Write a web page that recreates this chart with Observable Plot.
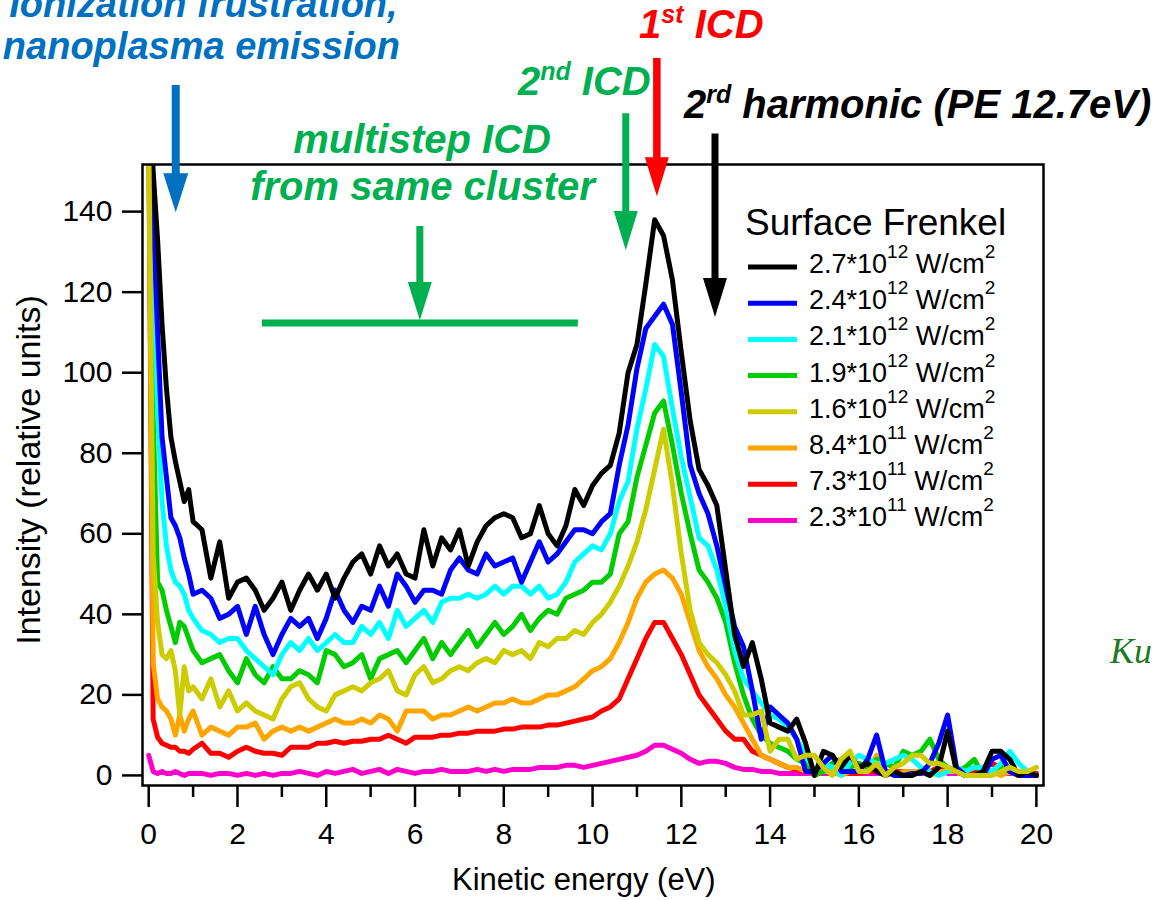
<!DOCTYPE html>
<html>
<head>
<meta charset="utf-8">
<script src="https://cdn.jsdelivr.net/npm/d3@7"></script>
<script src="https://cdn.jsdelivr.net/npm/@observablehq/plot@0.6"></script>
<style>
  html, body { margin: 0; padding: 0; background: #fff; }
  #chart svg { display: block; }
</style>
</head>
<body>
<div id="chart"></div>
<script>
// Kinetic energy grid (eV)
const energy = [
  0, 0.1, 0.2, 0.3, 0.4, 0.5, 0.6, 0.7, 0.8, 0.9, 1.0,
  1.2, 1.4, 1.6, 1.8, 2.0,
  2.2, 2.4, 2.6, 2.8, 3.0,
  3.2, 3.4, 3.6, 3.8, 4.0,
  4.2, 4.4, 4.6, 4.8, 5.0,
  5.2, 5.4, 5.6, 5.8, 6.0,
  6.2, 6.4, 6.6, 6.8, 7.0,
  7.2, 7.4, 7.6, 7.8, 8.0,
  8.2, 8.4, 8.6, 8.8, 9.0,
  9.2, 9.4, 9.6, 9.8, 10.0,
  10.2, 10.4, 10.6, 10.8, 11.0,
  11.2, 11.4, 11.6, 11.8, 12.0,
  12.2, 12.4, 12.6, 12.8, 13.0,
  13.2, 13.4, 13.6, 13.8, 14.0,
  14.2, 14.4, 14.6, 14.8, 15.0,
  15.2, 15.4, 15.6, 15.8, 16.0,
  16.2, 16.4, 16.6, 16.8, 17.0,
  17.2, 17.4, 17.6, 17.8, 18.0,
  18.2, 18.4, 18.6, 18.8, 19.0,
  19.2, 19.4, 19.6, 19.8, 20.0
];

// Electron intensity (relative units) for each laser intensity
const int27e12 = [
  175, 150, 133, 112, 96, 84, 78, 73, 68, 71, 63,
  61, 49, 58, 44, 48,
  49, 46, 41, 44, 48,
  41, 46, 50, 46, 50,
  44, 49, 53, 55, 50,
  57, 52, 55, 50, 49,
  61, 52, 59, 56, 61,
  52, 58, 62, 64, 65,
  64, 59, 60, 67, 60,
  57, 62, 71, 67, 72,
  75, 77, 85, 100, 107,
  122, 138, 134, 123, 105,
  88, 76, 72, 67, 51,
  35, 27, 33, 24, 13,
  12, 11, 14, 8, 0,
  6, 5, 2, 5, 2,
  3, 1, 0, 1, 0,
  0, 1, 0, 2, 11,
  1, 0, 0, 1, 6,
  6, 4, 0, 1, 0
];
const int24e12 = [
  170, 140, 110, 84, 74, 64, 62, 59, 54, 50, 45,
  46, 44, 39, 40, 42,
  35, 42, 35, 30, 35,
  39, 37, 39, 34, 39,
  46, 41, 38, 42, 41,
  47, 42, 50, 47, 43,
  46, 46, 45, 51, 54,
  51, 50, 55, 52, 53,
  54, 48, 53, 58, 53,
  55, 58, 61, 61, 60,
  63, 65, 77, 87, 101,
  111, 114, 117, 112, 95,
  77, 70, 65, 57, 47,
  37, 32, 21, 9, 17,
  15, 13, 9, 1, 1,
  3, 5, 1, 1, 1,
  4, 10, 1, 0, 0,
  0.5, 0.5, 3, 8, 15,
  2, 0, 0, 0, 4,
  5, 1, 0, 0, 0
];
const int21e12 = [
  170, 130, 90, 68, 57, 51, 48, 47, 45, 41, 39,
  36, 35, 33, 34, 34,
  31, 29, 27, 25, 30,
  33, 31, 34, 31, 33,
  35, 33, 33, 37, 35,
  38, 34, 41, 37, 39,
  41, 38, 43, 44, 44,
  45, 44, 45, 47, 45,
  47, 47, 45, 47, 44,
  45, 48, 53, 55, 57,
  56, 60, 68, 73, 86,
  96, 107, 104, 91, 79,
  69, 59, 57, 51, 42,
  31, 24, 21, 18, 15,
  14, 12, 9, 5, 1,
  3, 2, 0, 3, 5,
  4, 3, 3, 4, 5,
  4, 2, 1, 0, 1,
  2, 1, 2, 2, 1,
  3, 6, 3, 1, 0
];
const int19e12 = [
  165, 90, 48, 46, 41, 37, 33, 38, 37, 34, 31,
  28, 29, 30, 26, 23,
  29, 25, 23, 27, 24,
  24, 26, 25, 23, 31,
  30, 27, 28, 30, 24,
  29, 30, 31, 28, 31,
  34, 29, 33, 30, 33,
  36, 32, 35, 38, 35,
  37, 40, 36, 39, 41,
  40, 44, 45, 46, 48,
  48, 50, 60, 63, 74,
  82, 90, 93, 82, 70,
  60, 51, 48, 44, 38,
  28, 20, 14, 10, 8,
  7, 6, 4, 3, 0,
  1, 3, 4, 2, 3,
  2, 4, 3, 2, 6,
  5, 6, 9, 4, 2,
  1, 2, 4, 0, 1,
  2, 1, 0, 0, 0
];
const int16e12 = [
  160, 55, 38, 30, 29, 31, 26, 15, 27, 21, 22,
  19, 24, 17, 21, 16,
  18, 16, 15, 14, 19,
  22, 23, 19, 17, 16,
  20, 21, 22, 21, 23,
  24, 26, 21, 20, 25,
  27, 23, 24, 26, 27,
  26, 28, 29, 28, 31,
  30, 31, 29, 33, 32,
  34, 34, 36, 35, 38,
  40, 43, 47, 52, 58,
  66, 76, 86, 72, 55,
  41, 33, 30, 28, 25,
  21, 15, 15, 16, 6,
  9, 9, 4, 5, 5,
  2, 0, 4, 6, 1,
  1, 3, 0, 2, 3,
  5, 5, 3, 3, 2,
  1, 0, 0, 0, 0,
  1, 2, 1, 1, 2
];
const int84e11 = [
  160, 28, 19, 17, 16, 14, 10, 15, 11, 14, 16,
  10, 12, 11, 10, 12,
  12, 13, 9, 11, 12,
  11, 12, 11, 12, 13,
  14, 13, 13, 14, 13,
  15, 14, 11, 16, 16,
  16, 14, 15, 15, 16,
  17, 16, 17, 18, 18,
  19, 18, 18, 19, 20,
  20, 21, 22, 24, 26,
  27, 29, 33, 38, 44,
  48, 50, 51, 49, 45,
  38, 31, 27, 24, 20,
  17, 13, 9, 5, 4,
  3, 2, 2, 1, 1,
  1, 1, 0, 1, 1,
  1, 5, 1, 0, 1,
  1, 1, 0, 1, 1,
  1, 0, 0, 1, 1,
  0, 1, 0, 1, 0
];
const int73e11 = [
  160, 14, 9.5, 8, 7.5, 7, 7, 6, 6, 5.5, 6.5,
  8, 5.5, 5.5, 4.5, 6,
  7, 6, 5.5, 5.5, 5,
  7, 7, 7, 8, 8,
  8.5, 8, 8.5, 8.5, 9,
  9, 10, 9, 8, 9.5,
  9.5, 9.5, 10, 10, 10.5,
  10.5, 11, 11, 11, 11.5,
  11.5, 12, 12, 12, 12.5,
  12.5, 13, 13.5, 14, 14.5,
  16, 17, 19, 24, 29,
  34, 38, 38, 34, 30,
  25, 20, 17, 14, 11,
  9, 9, 6, 5, 4,
  3, 2, 1.5, 1, 1,
  1, 1, 1, 0.5, 0.5,
  1, 1, 1, 1, 1,
  1, 1, 1, 2, 1,
  1, 1, 1, 2, 3,
  2, 1, 1, 0.5, 0.5
];
const int23e11 = [
  5, 1, 0.5, 1, 0.5, 0.5, 1, 0.5, 0, 0.5, 0.5,
  0.5, 0, 0.5, 0.5, 0,
  0.5, 0, 0.5, 0, 0.5,
  0.5, 1, 0.5, 0, 1,
  0.5, 1, 1.5, 0.5, 1,
  1.5, 0.5, 1.5, 1, 0.5,
  1, 1, 1.5, 1, 1,
  1, 1.5, 1, 1.5, 1,
  1.5, 1.5, 1.5, 2, 2,
  2, 2.5, 2.5, 2, 2.5,
  3, 3.5, 4, 4.5, 5,
  6, 7.5, 7.5, 6.5, 5.5,
  4, 3, 3.5, 3.5, 3,
  2, 1.5, 1.5, 1, 1,
  0.5, 0.5, 0.5, 0.5, 0.5,
  0.5, 0.5, 0.5, 0.5, 0.5,
  0.5, 0.5, 0.5, 0.5, 0.5,
  0.5, 0.5, 1, 1, 0.5,
  0.5, 1, 0.5, 0.5, 0.5,
  0.5, 0.5, 0.5, 1, 0.5
];

// Legend entries (top to bottom): mantissa and power of ten of W/cm^2
const seriesMantissa = ["2.7", "2.4", "2.1", "1.9", "1.6", "8.4", "7.3", "2.3"];
const seriesExponent = ["12", "12", "12", "12", "12", "11", "11", "11"];
const seriesValues = [int27e12, int24e12, int21e12, int19e12, int16e12, int84e11, int73e11, int23e11];
const seriesColors = ["#000000", "#0000ff", "#00ffff", "#00cc00", "#cccc00", "#ffa500", "#ff0000", "#ff00cc"];
// stacking order of the traces (indices into the lists above), bottom first
const drawOrder = [7, 6, 5, 3, 2, 1, 0, 4];

const yTicks = [0, 20, 40, 60, 80, 100, 120, 140];
const xMajor = [0, 2, 4, 6, 8, 10, 12, 14, 16, 18, 20];
const xMinor = [1, 3, 5, 7, 9, 11, 13, 15, 17, 19];

const SANS = "'Liberation Sans', Arial, Helvetica, sans-serif";

const rows = seriesValues.map((vals, s) =>
  energy.map((e, i) => ({energy: e, intensity: vals[i], series: s}))
);

const fig = Plot.plot({
  width: 1157,
  height: 900,
  marginLeft: 142,
  marginRight: 114,
  marginTop: 164,
  marginBottom: 115,
  style: {fontFamily: SANS, fontSize: "30px", background: "#fff", color: "#000"},
  x: {domain: [-0.14, 20.16]},
  y: {domain: [-2.5, 151.7]},
  marks: [
    ...drawOrder.map(s => Plot.line(rows[s], {
      x: "energy", y: "intensity",
      stroke: seriesColors[s], strokeWidth: 5,
      strokeLinejoin: "round", strokeLinecap: "round",
      clip: true
    })),
    Plot.frame({stroke: "#000", strokeWidth: 2.5}),
    Plot.axisY(yTicks, {tickSize: 20, tickPadding: 10, strokeWidth: 2.5, label: null}),
    Plot.axisX(xMajor, {tickSize: 22, tickPadding: 15, strokeWidth: 2.5, label: null}),
    Plot.axisX(xMinor, {tickSize: 12, strokeWidth: 2.5, tickFormat: () => "", label: null})
  ]
});

document.getElementById("chart").appendChild(fig);

// ---- annotations, placed in data coordinates ----
const svg = d3.select(fig);
const sx = fig.scale("x"), sy = fig.scale("y");
const X = v => sx.apply(v), Y = v => sy.apply(v);

const BLUE = "#0070c0", GREEN = "#00b050", RED = "#ff0000";

const arrows = [
  {x: 0.62, top: 171.3, base: 149.4, tip: 139.7, color: BLUE, shaft: 8, head: 25},
  {x: 6.12, top: 136.3, base: 122.4, tip: 112.9, color: GREEN, shaft: 7, head: 24},
  {x: 10.76, top: 164.3, base: 140.0, tip: 130.3, color: GREEN, shaft: 7, head: 24},
  {x: 11.46, top: 178.0, base: 153.4, tip: 143.7, color: RED, shaft: 7.5, head: 24},
  {x: 12.77, top: 159.3, base: 123.4, tip: 113.7, color: "#000", shaft: 7, head: 24}
];
const ann = svg.append("g");
for (const a of arrows) {
  const cx = X(a.x), yt = Y(a.top), yb = Y(a.base), yp = Y(a.tip);
  const hs = a.shaft / 2, hh = a.head / 2;
  ann.append("path")
    .attr("d", `M${cx - hs},${yt}H${cx + hs}V${yb}H${cx + hh}L${cx},${yp}L${cx - hh},${yb}H${cx - hs}Z`)
    .attr("fill", a.color);
}
// span of the multistep ICD region
ann.append("line")
  .attr("x1", X(2.56)).attr("x2", X(9.68))
  .attr("y1", Y(112.2)).attr("y2", Y(112.2))
  .attr("stroke", GREEN).attr("stroke-width", 7);

function label(parts, x, y, color, anchor, size) {
  const t = ann.append("text")
    .attr("x", X(x)).attr("y", Y(y))
    .attr("fill", color)
    .attr("font-family", SANS)
    .attr("font-weight", "bold").attr("font-style", "italic")
    .attr("font-size", size || 40)
    .attr("text-anchor", anchor || "start")
    .style("white-space", "pre");
  let raised = false;
  for (const p of parts) {
    const sup = typeof p === "object";
    const s = t.append("tspan").text(sup ? p.sup : p);
    if (sup && !raised) { s.attr("dy", -15).attr("font-size", 25); raised = true; }
    else if (!sup && raised) { s.attr("dy", 15); raised = false; }
  }
}
label(["Ionization frustration,"], 5.62, 188.1, BLUE, "end", 38);
label(["nanoplasma emission"], 5.67, 177.7, BLUE, "end", 38);
label(["multistep ICD"], 6.17, 154.4, GREEN, "middle");
label(["from same cluster"], 6.18, 142.7, GREEN, "middle");
label(["2", {sup: "nd"}, " ICD"], 8.33, 168.8, GREEN);
label(["1", {sup: "st"}, " ICD"], 11.06, 182.9, RED);
label(["2", {sup: "rd"}, " harmonic (PE 12.7eV)"], 12.07, 163.1, "#000");

// ---- legend ----
const lg = svg.append("g")
  .attr("font-family", SANS).attr("fill", "#000").attr("text-anchor", "start");
lg.append("text").attr("x", 745).attr("y", 235).attr("font-size", 37).text("Surface Frenkel");
seriesMantissa.forEach((m, i) => {
  const cy = 267 + i * 36.2;
  lg.append("line")
    .attr("x1", 748).attr("x2", 797).attr("y1", cy).attr("y2", cy)
    .attr("stroke", seriesColors[i]).attr("stroke-width", 5);
  const t = lg.append("text").attr("x", 809).attr("y", cy + 6).attr("font-size", 27)
    .style("white-space", "pre");
  t.append("tspan").text(m + "*10");
  t.append("tspan").attr("dy", -15).attr("font-size", 19).text(seriesExponent[i]);
  t.append("tspan").attr("dy", 15).text(" W/cm");
  t.append("tspan").attr("dy", -15).attr("font-size", 19).text("2");
});

// ---- axis titles ----
svg.append("text")
  .attr("transform", "translate(40,470) rotate(-90)")
  .attr("text-anchor", "middle")
  .attr("font-family", SANS).attr("font-size", 34)
  .text("Intensity (relative units)");
svg.append("text")
  .attr("x", 452).attr("y", 890)
  .attr("text-anchor", "start")
  .attr("font-family", SANS).attr("font-size", 31)
  .text("Kinetic energy (eV)");

// neighbouring slide text at the right edge
svg.append("text")
  .attr("x", 1110).attr("y", 663)
  .attr("text-anchor", "start")
  .attr("font-family", "'Liberation Serif', 'DejaVu Serif', serif")
  .attr("font-style", "italic").attr("font-size", 36)
  .attr("fill", "#1f7a1f")
  .text("Ku");
</script>
</body>
</html>
